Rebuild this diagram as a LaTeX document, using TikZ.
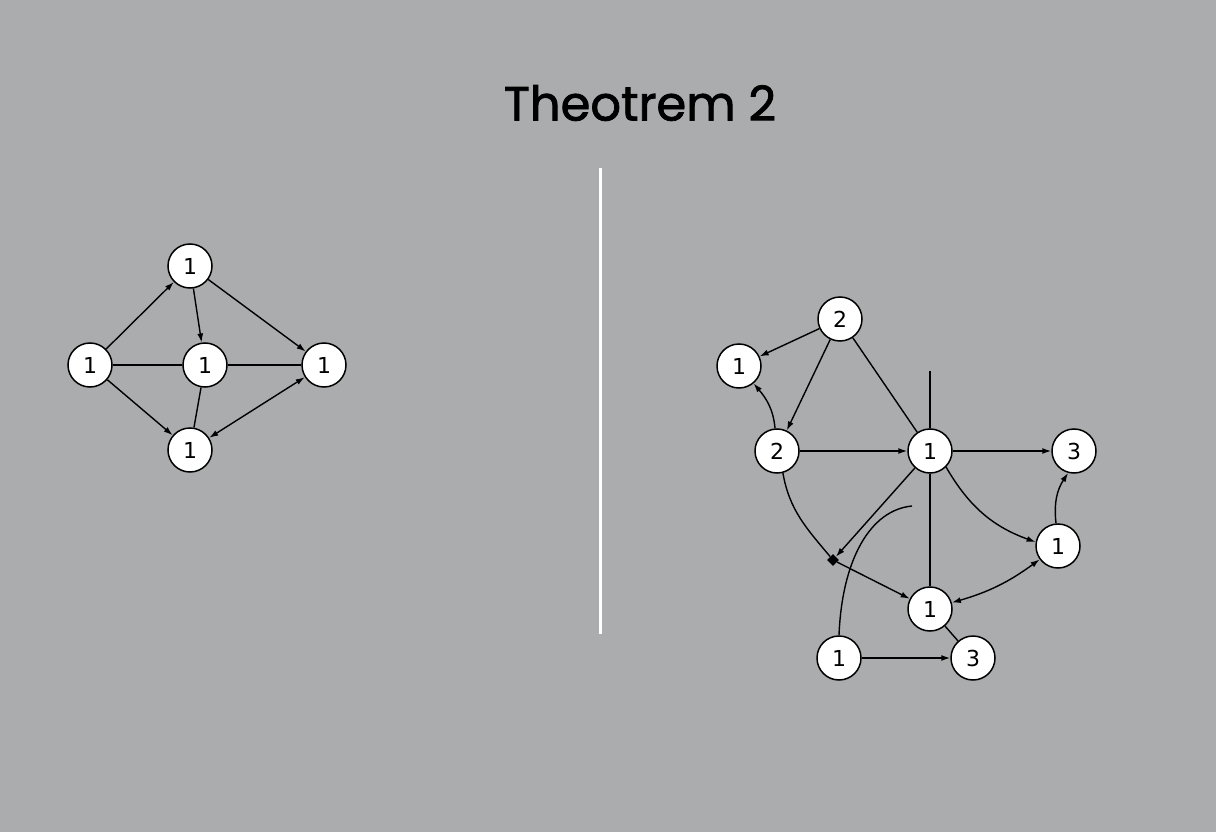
\documentclass[tikz,border=0pt]{standalone}
\usepackage{fontspec}
\setmainfont{DejaVu Sans}
\newfontfamily\titlefont{Poppins}[FakeBold=1.6]
\usetikzlibrary{arrows.meta,shapes.geometric}
\definecolor{bgc}{RGB}{170,172,173}
\tikzset{
  vtx/.style={circle,draw=black,fill=white,line width=1.5pt,minimum size=44pt,inner sep=0pt,font=\fontsize{22}{22}\selectfont},
  edge/.style={line width=1.4pt,black},
  arr/.style={edge,-{Latex[length=9pt,width=6pt]}},
  barr/.style={edge,{Latex[length=9pt,width=6pt]}-{Latex[length=9pt,width=6pt]}},
  junc/.style={diamond,fill=black,inner sep=0pt,minimum size=12pt}
}
\begin{document}
\begin{tikzpicture}[x=1pt,y=-1pt]
\fill[bgc] (0,0) rectangle (1216,832);
\useasboundingbox (0,0) rectangle (1216,832);
\node[font=\titlefont\fontsize{48}{48}\selectfont] (title) at (640,103) {Theotrem 2};
\coordinate (sepT) at (600,168);
\coordinate (sepB) at (600,634);
\draw[white,line width=3pt] (sepT) -- (sepB);
% left graph
\node[vtx] (lt) at (190,266) {1};
\node[vtx] (ll) at (90,365) {1};
\node[vtx] (lc) at (205,365) {1};
\node[vtx] (lr) at (324,365) {1};
\node[vtx] (lb) at (190,450) {1};
\draw[arr] (ll) -- (lt);
\draw[arr] (lt) -- (lc);
\draw[arr] (lt) -- (lr);
\draw[edge] (ll) -- (lc);
\draw[edge] (lc) -- (lr);
\draw[arr] (ll) -- (lb);
\draw[edge] (lc) -- (lb);
\draw[barr] (lb) -- (lr);
% right graph
\node[vtx] (a) at (840,319) {2};
\node[vtx] (b) at (739,366) {1};
\node[vtx] (c) at (777,451) {2};
\node[vtx] (d) at (930,451) {1};
\node[vtx] (e) at (1074,451) {3};
\node[vtx] (f) at (1058,546) {1};
\node[vtx] (g) at (930,609) {1};
\node[vtx] (h) at (839,658) {1};
\node[vtx] (k) at (973,658) {3};
\node[junc] (j) at (833,560) {};
\coordinate (dtop) at (930,371);
\coordinate (hend) at (912,506);
\draw[arr] (a) -- (b);
\draw[arr] (a) -- (c);
\draw[edge] (a) -- (d);
\draw[arr] (c.95) to[out=95,in=-50] (b.-50);
\draw[arr] (c) -- (d);
\draw[edge] (d) -- (dtop);
\draw[arr] (d) -- (j);
\draw[arr] (d) -- (e);
\draw[edge] (c.-75) to[out=-80,in=130] (j);
\draw[arr] (j) -- (g);
\draw[edge] (d) -- (g);
\draw[arr] (d.-45) to[bend right=20] (f.170);
\draw[arr] (f.95) to[bend left=20] (e.-105);
\draw[barr] (g) to[bend right=10] (f);
\draw[edge] (g) -- (k);
\draw[arr] (h) -- (k);
\draw[edge] (h.90) .. controls (842,560) and (870,510) .. (hend);
\end{tikzpicture}
\end{document}
